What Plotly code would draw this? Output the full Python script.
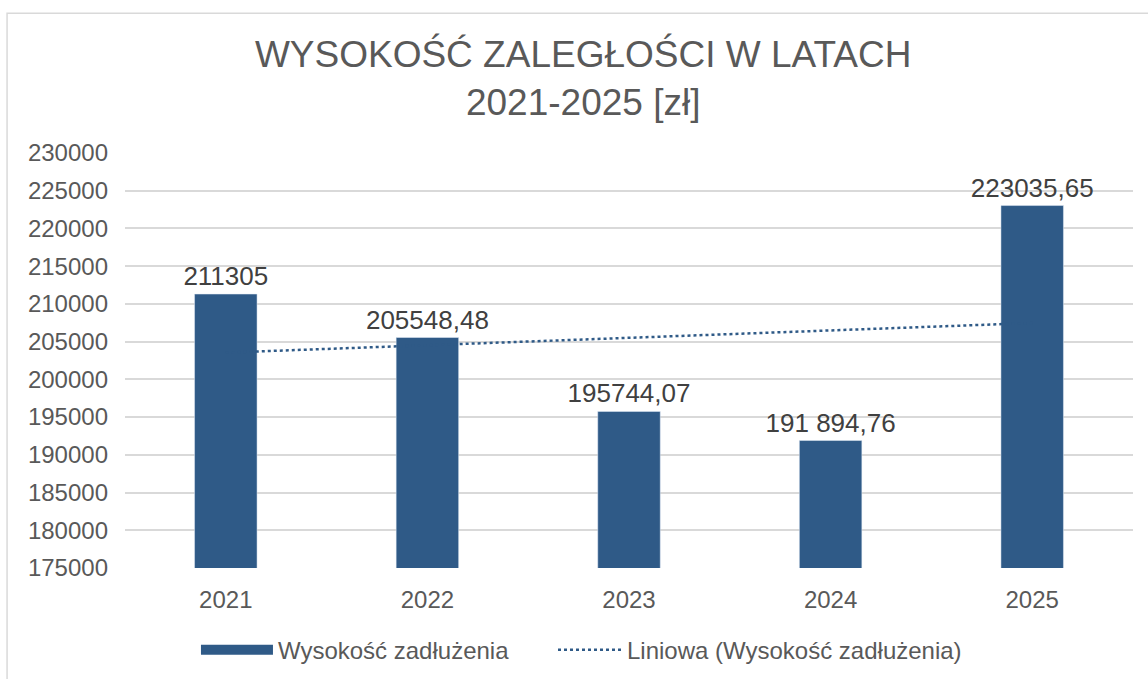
import numpy as np
import plotly.graph_objects as go

years = ["2021", "2022", "2023", "2024", "2025"]
values = [211305, 205548.48, 195744.07, 191894.76, 223035.65]
value_labels = ["211305", "205548,48", "195744,07", "191 894,76", "223035,65"]
y_ticks = list(range(175000, 230001, 5000))

bar_color = "#2F5A87"
text_grey = "#595959"

# linear trend (Excel "Liniowa")
xi = np.arange(len(values))
slope, intercept = np.polyfit(xi, values, 1)
trend = slope * xi + intercept

fig = go.Figure()
fig.add_trace(go.Bar(
    x=years, y=values, name="Wysokość zadłużenia",
    marker=dict(color=bar_color),
    text=value_labels, textposition="outside", constraintext="none",
    textfont=dict(size=26, color="#404040"),
    cliponaxis=False, showlegend=False,
))
# legend proxy for the bar series (wide rectangle symbol)
fig.add_trace(go.Scatter(
    x=[None], y=[None], mode="lines", name="Wysokość zadłużenia",
    line=dict(color=bar_color, width=12), legend="legend",
))
fig.add_trace(go.Scatter(
    x=years, y=trend, mode="lines",
    name="Liniowa (Wysokość zadłużenia)",
    line=dict(color=bar_color, width=2.5, dash="dot"), legend="legend2",
))

legend_common = dict(orientation="h", xanchor="left", y=-0.198, yanchor="middle",
                     font=dict(size=24, color=text_grey), bgcolor="rgba(0,0,0,0)")

fig.update_layout(
    width=1148, height=679,
    margin=dict(l=125, r=15, t=153, b=111, autoexpand=False),
    paper_bgcolor="white", plot_bgcolor="white",
    font=dict(family="Liberation Sans, Arial, sans-serif", color=text_grey, size=24),
    title=dict(
        text="WYSOKOŚĆ ZALEGŁOŚCI W LATACH<br>2021-2025 [zł]",
        x=0.508, xanchor="center", y=0.901, yanchor="middle",
        font=dict(size=37, color=text_grey),
    ),
    bargap=0.69,
    showlegend=True,
    legend=dict(x=0.0704, itemwidth=72, **legend_common),
    legend2=dict(x=0.4246, itemwidth=64, **legend_common),
    xaxis=dict(type="category", showgrid=False, showline=False, ticks="",
               ticklabelstandoff=15, tickfont=dict(size=24, color=text_grey)),
    yaxis=dict(range=[175000, 230000], tickvals=y_ticks, tickformat="d",
               showgrid=True, gridcolor="#D9D9D9", gridwidth=1.5,
               zeroline=False, showline=False, ticks="", ticklen=0,
               ticklabelstandoff=16, tickfont=dict(size=24, color=text_grey)),
    shapes=[dict(type="rect", xref="paper", yref="paper",
                 x0=-0.117, x1=1.05, y0=-0.35, y1=1.337,
                 line=dict(color="#D9D9D9", width=1.5), layer="below")],
)

fig.write_html("out.html", config={"displayModeBar": False},
               post_script="document.body.style.margin='0';")
